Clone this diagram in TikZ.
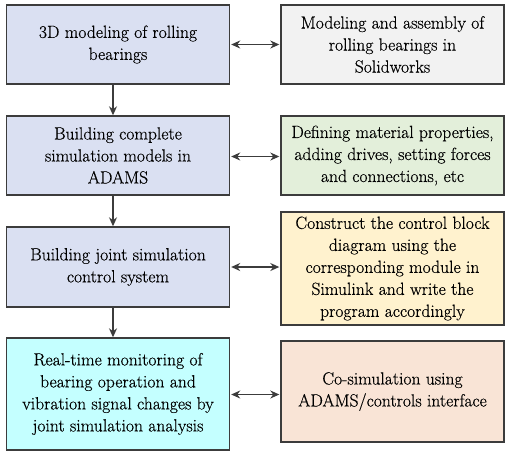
\documentclass[tikz,border=0pt]{standalone}
\usepackage{fontspec}
\newfontfamily\lmthick{lmroman17-regular.otf}[FakeBold=0.45]
\usetikzlibrary{arrows.meta,calc}
\definecolor{bluebox}{RGB}{218,224,242}
\definecolor{greybox}{RGB}{242,242,242}
\definecolor{greenbox}{RGB}{227,239,218}
\definecolor{yellowbox}{RGB}{255,242,206}
\definecolor{peachbox}{RGB}{249,228,214}
\definecolor{cyanbox}{RGB}{196,255,255}
\definecolor{edge}{RGB}{60,60,60}
\tikzset{
  box/.style={draw=edge, line width=1.4pt, minimum width=223pt, inner sep=2pt, align=center,
    font=\lmthick\fontsize{17.6pt}{22pt}\selectfont, text=black},
  conn/.style={draw=edge, line width=1.3pt},
  arr/.style={conn, -{Stealth[length=9pt,width=8pt]}},
  darr/.style={conn, {Stealth[length=9pt,width=8pt]}-{Stealth[length=9pt,width=8pt]}},
}
\begin{document}
\begin{tikzpicture}[x=1pt,y=-1pt]
\useasboundingbox[fill=white] (0,0) rectangle (511,456);
\node[box, fill=bluebox, minimum height=79pt] (L1) at (118,44.5) {3D modeling of rolling\\bearings};
\node[box, fill=greybox, minimum height=79pt] (R1) at (392.5,44.5) {Modeling and assembly of\\rolling bearings in\\Solidworks};
\node[box, fill=bluebox, minimum height=79pt] (L2) at (118,155.5) {Building complete\\simulation models in\\ADAMS};
\node[box, fill=greenbox, minimum height=79pt] (R2) at (392.5,155.5) {Defining material properties,\\adding drives, setting forces\\and connections, etc};
\node[box, fill=bluebox, minimum height=80pt] (L3) at (118,267) {Building joint simulation\\control system};
\node[box, fill=yellowbox, minimum height=113pt] (R3) at (392.5,268.5) {Construct the control block\\diagram using the\\corresponding module in\\Simulink and write the\\program accordingly};
\node[box, fill=cyanbox, minimum height=112pt] (L4) at (118,394) {Real-time monitoring of\\bearing operation and\\vibration signal changes by\\joint simulation analysis};
\node[box, fill=peachbox, minimum height=101pt] (R4) at (392.5,391.5) {Co-simulation using\\ADAMS/controls interface};
\draw[arr] ([xshift=-5pt]L1.south) -- ([xshift=-5pt]L2.north);
\draw[arr] ([xshift=-5pt]L2.south) -- ([xshift=-5pt]L3.north);
\draw[arr] ([xshift=-5pt]L3.south) -- ([xshift=-5pt]L4.north);
\draw[darr] ([xshift=1pt]L1.east) -- ([xshift=-1pt]L1.east -| R1.west);
\draw[darr] ([xshift=1pt,yshift=-1pt]L2.east) -- ([xshift=-1pt,yshift=-1pt]L2.east -| R2.west);
\draw[darr] ([xshift=1pt]L3.east) -- ([xshift=-1pt]L3.east -| R3.west);
\draw[darr] ([xshift=1pt,yshift=-0.5pt]L4.east) -- ([xshift=-1pt,yshift=-0.5pt]L4.east -| R4.west);
\end{tikzpicture}
\end{document}
